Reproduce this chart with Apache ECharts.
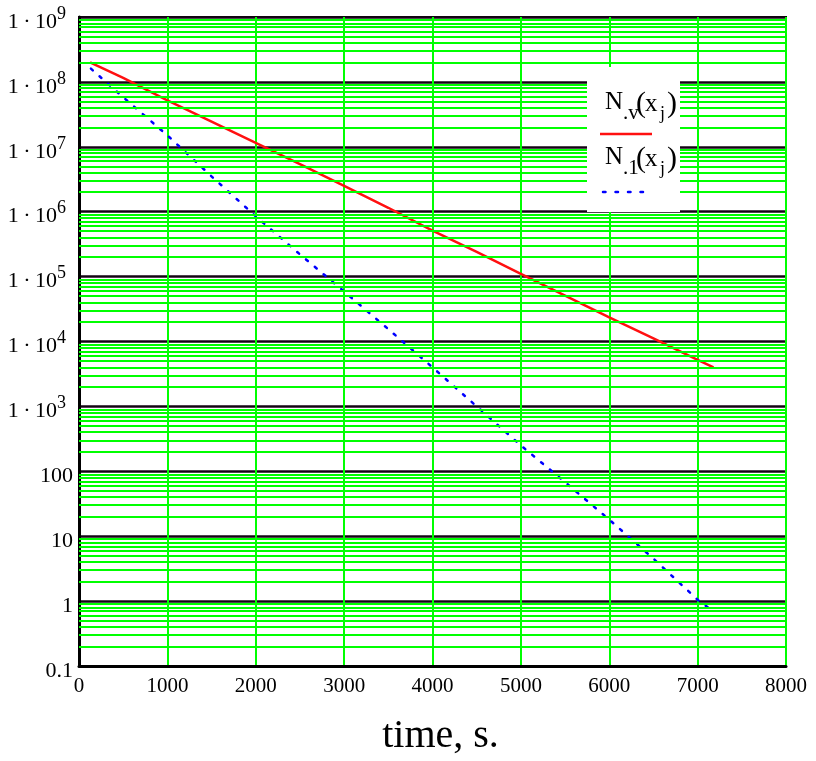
<!DOCTYPE html>
<html><head><meta charset="utf-8">
<script src="https://cdn.jsdelivr.net/npm/echarts@6/dist/echarts.min.js"></script>
<style>html,body{margin:0;padding:0;background:#fff}#c{width:816px;height:761px}</style>
</head><body><div id="c"></div>
<script>
// N.v(x_j) — red solid line
const timeRed = [125, 500, 1000, 1500, 2000, 2500, 3000, 3500, 4000, 4500, 5000, 5500, 6000, 6500, 7000, 7180];
const valuesRed = [2.0e8, 1.15e8, 5.2e7, 2.45e7, 1.15e7, 5.4e6, 2.5e6, 1.15e6, 5.1e5, 2.4e5, 1.1e5, 5.1e4, 2.35e4, 1.12e4, 5.2e3, 4.0e3];
// N.1(x_j) — blue dotted line
const timeBlue = [135, 500, 1000, 1500, 2000, 2500, 3000, 3500, 4000, 4500, 5000, 5500, 6000, 6500, 7000, 7160];
const valuesBlue = [1.6e8, 5.8e7, 1.5e7, 3.5e6, 8.5e5, 2.2e5, 5.9e4, 1.55e4, 4.0e3, 1.0e3, 250, 68, 18, 4.5, 1.05, 0.72];
// axis ticks
const xTicks = [0, 1000, 2000, 3000, 4000, 5000, 6000, 7000, 8000];
const yTickLabels = ['0.1', '1', '10', '100', '1\u2009·\u200910^3', '1\u2009·\u200910^4', '1\u2009·\u200910^5', '1\u2009·\u200910^6', '1\u2009·\u200910^7', '1\u2009·\u200910^8', '1\u2009·\u200910^9'];
const minorMultipliers = [2, 3, 4, 5, 6, 7, 8, 9];
// legend labels: N with subscript, then (x_j)
const legendSubs = ['.v', '.1'];

const SERIF = '"Liberation Serif","Times New Roman",serif';
const GREEN = '#00ff00';

const minorLines = [];
for (let e = -1; e <= 8; e++) {
  for (const m of minorMultipliers) minorLines.push({ yAxis: m * Math.pow(10, e) });
}

function legendEntry(sub, yc) {
  const t = (text, x, y, size) => ({
    type: 'text', z: 101, x: x, y: y,
    style: { text: text, fontFamily: SERIF, fontSize: size, fill: '#000', textAlign: 'left', textVerticalAlign: 'middle' }
  });
  return [
    t('N', 605, yc, 25),
    t(sub, 623, yc + 11, 21),
    t('(', 636, yc + 2, 30),
    t('x', 645, yc + 2, 25),
    t('j', 660, yc + 12, 18),
    t(')', 667, yc + 2, 30)
  ];
}

const chart = echarts.init(document.getElementById('c'));
chart.setOption({
  animation: false,
  backgroundColor: '#fff',
  grid: { left: 79, right: 30, top: 17, bottom: 93, show: true, borderColor: '#000', borderWidth: 2, backgroundColor: 'transparent' },
  xAxis: {
    type: 'value', min: xTicks[0], max: xTicks[xTicks.length - 1], interval: 1000,
    axisLine: { show: true, onZero: false, lineStyle: { color: '#000', width: 3 } },
    axisTick: { show: false },
    splitLine: { show: true, lineStyle: { color: GREEN, width: 2 } },
    axisLabel: { color: '#000', fontFamily: SERIF, fontSize: 21, margin: 10, formatter: v => String(v) },
    name: 'time, s.', nameLocation: 'middle', nameGap: 50,
    nameTextStyle: { color: '#000', fontFamily: SERIF, fontSize: 40, padding: [0, 0, 0, 16] }
  },
  yAxis: {
    type: 'log', logBase: 10, min: 0.1, max: 1e9, splitNumber: 10,
    axisLine: { show: true, lineStyle: { color: '#000', width: 3 } },
    axisTick: { show: false },
    splitLine: { show: true, lineStyle: { color: '#140414', width: 2.5 } },
    axisLabel: {
      margin: 6,
      padding: [10, 0, 0, 0],
      formatter: function (v) {
        const e = Math.round(Math.log10(v));
        const lab = yTickLabels[e + 1];
        if (lab === undefined) return '';
        if (lab.indexOf('^') >= 0) {
          const p = lab.split('^');
          return '{b|' + p[0] + '}{s|' + p[1] + '}';
        }
        return '{b|' + lab + '}';
      },
      rich: {
        b: { fontFamily: SERIF, fontSize: 22, color: '#000', lineHeight: 34, verticalAlign: 'middle' },
        s: { fontFamily: SERIF, fontSize: 18, color: '#000', lineHeight: 10, verticalAlign: 'top', padding: [0, 7, 0, 0] }
      }
    }
  },
  series: [
    {
      name: 'minor', type: 'line', data: [], silent: true, z: 1,
      markLine: {
        silent: true, symbol: ['none', 'none'], animation: false,
        label: { show: false },
        lineStyle: { color: GREEN, width: 2, type: 'solid' },
        emphasis: { disabled: true },
        data: minorLines
      }
    },
    {
      name: 'N.v', type: 'line', z: 3, showSymbol: false, symbol: 'none',
      data: timeRed.map((t, i) => [t, valuesRed[i]]),
      lineStyle: { color: '#ff1010', width: 2.5 }
    },
    {
      name: 'N.1', type: 'line', z: 3, showSymbol: false, symbol: 'none',
      data: timeBlue.map((t, i) => [t, valuesBlue[i]]),
      lineStyle: { color: '#0000ff', width: 2.5, type: [2.5, 9], cap: 'round' }
    }
  ],
  graphic: [
    { type: 'rect', z: 100, shape: { x: 587, y: 67, width: 93, height: 145 }, style: { fill: '#fff' } },
    ...legendEntry(legendSubs[0], 102),
    { type: 'line', z: 101, shape: { x1: 600, y1: 134, x2: 652, y2: 134 }, style: { stroke: '#ff1010', lineWidth: 2.5 } },
    ...legendEntry(legendSubs[1], 157),
    { type: 'line', z: 101, shape: { x1: 603, y1: 192, x2: 643, y2: 192 }, style: { stroke: '#0000ff', lineWidth: 2.5, lineDash: [2.5, 10], lineCap: 'round' } }
  ]
});
</script></body></html>
